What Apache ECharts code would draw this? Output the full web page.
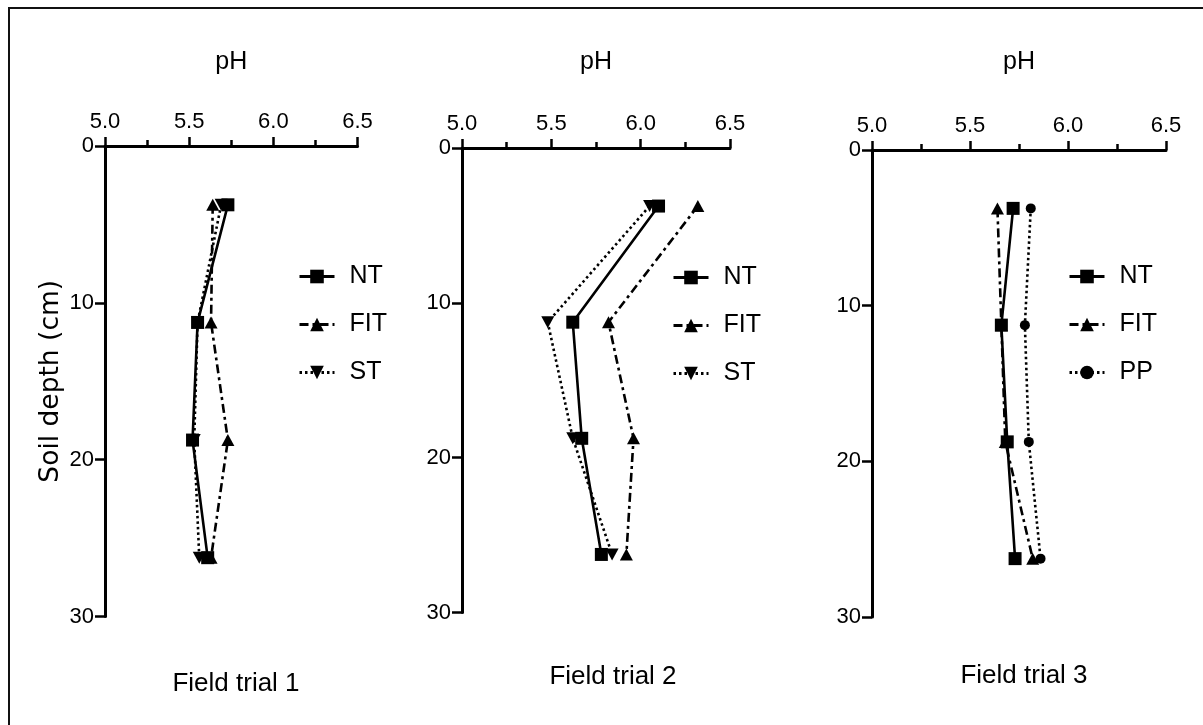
<!DOCTYPE html>
<html>
<head>
<meta charset="utf-8">
<script src="https://cdn.jsdelivr.net/npm/echarts@6/dist/echarts.min.js"></script>
<style>
html,body{margin:0;padding:0;background:#fff;}
#chart{width:1203px;height:725px;}
</style>
</head>
<body>
<div id="chart"></div>
<script>
// ---- data ----
const depths = [3.75, 11.25, 18.75, 26.25];
const xTicks = ['5.0', '5.5', '6.0', '6.5'];
const yTicks = [0, 10, 20, 30];
const panelTitles = ['Field trial 1', 'Field trial 2', 'Field trial 3'];

const trial1NT  = [5.73, 5.55, 5.52, 5.61];
const trial1FIT = [5.64, 5.63, 5.73, 5.63];
const trial1ST  = [5.69, 5.55, 5.53, 5.56];

const trial2NT  = [6.10, 5.62, 5.67, 5.78];
const trial2FIT = [6.32, 5.82, 5.96, 5.92];
const trial2ST  = [6.05, 5.48, 5.62, 5.84];

const trial3NT  = [5.72, 5.66, 5.69, 5.73];
const trial3FIT = [5.64, 5.66, 5.68, 5.82];
const trial3PP  = [5.81, 5.78, 5.80, 5.86];

// ---- styling ----
const NARROW = "'Liberation Sans Narrow','Arial Narrow','Liberation Sans',Arial,sans-serif";
const BLACK = '#000';

const grids = [
  {left: 105, top: 146, width: 252.5, height: 470.5},
  {left: 462, top: 148, width: 268, height: 464.5},
  {left: 872, top: 150, width: 294, height: 467}
];
const nameGaps = [71, 73, 75];
const legendPos = [{left: 298, top: 263}, {left: 672, top: 264}, {left: 1068, top: 263}];
const titlePos = [{x: 231, y: 681}, {x: 608, y: 674}, {x: 1019, y: 673}];

function pts(vals){ return vals.map((v, i) => [v, depths[i]]); }

const styles = {
  NT:  {symbol: 'rect', symbolSize: 13, rotate: 0, type: 'solid', z: 5},
  FIT: {symbol: 'triangle', symbolSize: [13, 12], rotate: 0, type: [9, 4, 3, 4], z: 4},
  ST:  {symbol: 'triangle', symbolSize: [13, 12], rotate: 180, type: [2.5, 3], z: 3},
  PP:  {symbol: 'circle', symbolSize: 10, rotate: 0, type: [2.5, 3], z: 3}
};

function mkSeries(name, vals, idx){
  const s = styles[name];
  return {
    type: 'line', name: name, data: pts(vals),
    xAxisIndex: idx, yAxisIndex: idx,
    symbol: s.symbol, symbolSize: s.symbolSize, symbolRotate: s.rotate,
    showAllSymbol: true, z: s.z, silent: true, animation: false,
    lineStyle: {color: BLACK, width: 2.6, type: s.type},
    itemStyle: {color: BLACK, borderWidth: 0}
  };
}

const series = [
  mkSeries('NT', trial1NT, 0), mkSeries('FIT', trial1FIT, 0), mkSeries('ST', trial1ST, 0),
  mkSeries('NT', trial2NT, 1), mkSeries('FIT', trial2FIT, 1), mkSeries('ST', trial2ST, 1),
  mkSeries('NT', trial3NT, 2), mkSeries('FIT', trial3FIT, 2), mkSeries('PP', trial3PP, 2)
];

const xAxes = grids.map((g, i) => ({
  type: 'value', gridIndex: i, position: 'top',
  min: 5.0, max: 6.5, interval: 0.5,
  name: 'pH', nameLocation: 'middle', nameGap: nameGaps[i],
  nameTextStyle: {fontFamily: NARROW, fontSize: 25, color: BLACK},
  axisLine: {show: true, onZero: false, lineStyle: {color: BLACK, width: 3}},
  axisTick: {show: true, inside: false, length: 9, lineStyle: {color: BLACK, width: 2.5}},
  minorTick: {show: true, splitNumber: 2, length: 6, lineStyle: {color: BLACK, width: 2.5}},
  axisLabel: {margin: 13, fontFamily: NARROW, fontSize: 22, color: BLACK,
    formatter: v => xTicks[Math.round((v - 5.0) / 0.5)] || ''},
  splitLine: {show: false}
}));

const yAxes = grids.map((g, i) => ({
  type: 'value', gridIndex: i, inverse: true,
  min: yTicks[0], max: yTicks[yTicks.length - 1], interval: 10,
  name: i === 0 ? 'Soil depth (cm)' : '', nameLocation: 'middle', nameGap: 40,
  nameTextStyle: {fontFamily: "'DejaVu Sans','Liberation Sans',sans-serif", fontSize: 26.5, color: BLACK},
  axisLine: {show: true, onZero: false, lineStyle: {color: BLACK, width: 3}},
  axisTick: {show: true, length: 10, lineStyle: {color: BLACK, width: 2.5}},
  axisLabel: {margin: 11, fontFamily: NARROW, fontSize: 22, color: BLACK},
  splitLine: {show: false}
}));

const legends = [
  ['NT', 'FIT', 'ST'], ['NT', 'FIT', 'ST'], ['NT', 'FIT', 'PP']
].map((d, i) => ({
  data: d, orient: 'vertical', left: legendPos[i].left, top: legendPos[i].top,
  itemWidth: 35, itemHeight: 17, itemGap: 21, padding: 0, selectedMode: false,
  lineStyle: {width: 3},
  textStyle: {fontFamily: NARROW, fontSize: 25, color: BLACK, lineHeight: 27, padding: [0, 0, 0, 10]}
}));

const titles = panelTitles.map((t, i) => ({
  text: t, left: titlePos[i].x, top: titlePos[i].y - 15, textAlign: 'center',
  textStyle: {fontFamily: NARROW, fontSize: 26, fontWeight: 'normal', color: BLACK}
}));

const chart = echarts.init(document.getElementById('chart'), null, {renderer: 'canvas'});
chart.setOption({
  animation: false,
  backgroundColor: '#fff',
  title: titles,
  grid: grids,
  xAxis: xAxes,
  yAxis: yAxes,
  legend: legends,
  series: series,
  graphic: [{
    type: 'rect', silent: true, z: 0,
    shape: {x: 9, y: 8, width: 1400, height: 900},
    style: {fill: 'none', stroke: '#111', lineWidth: 2}
  }]
});
</script>
</body>
</html>
